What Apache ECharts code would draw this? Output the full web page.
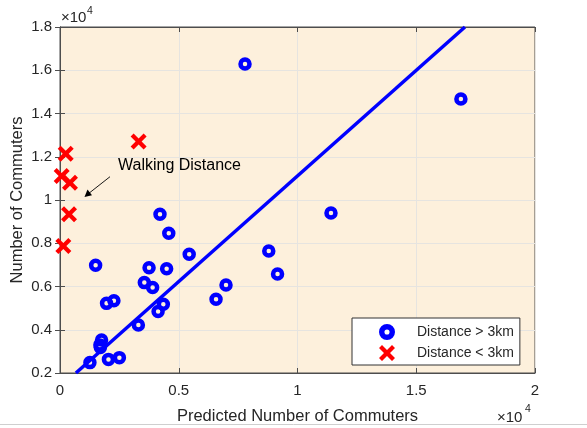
<!DOCTYPE html>
<html>
<head>
<meta charset="utf-8">
<script src="https://cdn.jsdelivr.net/npm/echarts@6/dist/echarts.min.js"></script>
<style>html,body{margin:0;padding:0;background:#fff}#c{width:587px;height:428px}</style>
</head>
<body>
<div id="c"></div>
<script>
// Distance > 3km: [predicted, actual]
var farPredicted = [7790, 16880, 11410, 4210, 4580, 5440, 1500, 3750, 4490, 3550, 3900, 8790, 9160, 6990, 6570, 1960, 2270, 4350, 4130, 3300, 1750, 1680, 1700, 2040, 2500, 1260];
var farActual    = [16290, 14670, 9400, 9340, 8460, 7490, 6980, 6870, 6820, 6180, 5950, 7640, 6580, 6070, 5410, 5220, 5340, 5180, 4840, 4220, 3530, 3300, 3180, 2630, 2710, 2480];
// Distance < 3km
var nearPredicted = [240, 70, 420, 3310, 380, 140];
var nearActual    = [12140, 11110, 10800, 12700, 9340, 7870];
// fitted line endpoints
var fitX = [670, 17050];
var fitY = [2000, 18000];
var xTicks = ['0', '0.5', '1', '1.5', '2'];

function pairs(a, b) { return a.map(function (v, i) { return [v, b[i]]; }); }

var crossPath = 'path://M3,0 L8,5 L13,0 L16,3 L11,8 L16,13 L13,16 L8,11 L3,16 L0,13 L5,8 L0,3 Z';
var ringPath = 'path://M8,0.5 A7.5,7.5 0 1,1 8,15.5 A7.5,7.5 0 1,1 8,0.5 Z M8,5.6 A2.4,2.4 0 1,0 8,10.4 A2.4,2.4 0 1,0 8,5.6 Z';
var txt = '#262626';
var font = '"Liberation Sans", Arial, Helvetica, sans-serif';

var chart = echarts.init(document.getElementById('c'), null, {renderer: 'canvas'});
chart.setOption({
  animation: false,
  backgroundColor: '#ffffff',
  textStyle: {fontFamily: font},
  grid: {left: 60, top: 27, right: 52, bottom: 55, show: true, backgroundColor: '#fdf0dc', borderColor: '#4d4d4d', borderWidth: 1, containLabel: false, outerBoundsMode: 'none'},
  xAxis: [{
    type: 'value', min: 0, max: 20000, interval: 5000, position: 'bottom',
    name: 'Predicted Number of Commuters', nameLocation: 'middle', nameGap: 35, nameMoveOverlap: false,
    nameTextStyle: {fontSize: 16.5, color: txt, fontFamily: font},
    axisLine: {show: true, lineStyle: {color: '#4d4d4d', width: 1}},
    axisTick: {show: true, inside: true, length: 5, lineStyle: {color: '#4d4d4d'}},
    axisLabel: {fontSize: 15, color: txt, margin: 10, fontFamily: font, formatter: function (v) { return xTicks[Math.round(v / 5000)]; }},
    splitLine: {show: true, lineStyle: {color: '#e6e4e0', width: 1}}
  }, {
    type: 'value', min: 0, max: 20000, interval: 5000, position: 'top',
    axisLine: {show: true, lineStyle: {color: '#4d4d4d', width: 1}},
    axisTick: {show: true, inside: true, length: 5, lineStyle: {color: '#4d4d4d'}},
    axisLabel: {show: false}, splitLine: {show: false}
  }],
  yAxis: [{
    type: 'value', min: 2000, max: 18000, interval: 2000, position: 'left',
    name: 'Number of Commuters', nameLocation: 'middle', nameGap: 34, nameRotate: 90, nameMoveOverlap: false,
    nameTextStyle: {fontSize: 16.5, color: txt, fontFamily: font},
    axisLine: {show: true, lineStyle: {color: '#4d4d4d', width: 1}},
    axisTick: {show: true, inside: true, length: 5, lineStyle: {color: '#4d4d4d'}},
    axisLabel: {fontSize: 15, color: txt, margin: 8, fontFamily: font, formatter: function (v) { return String(Math.round(v / 1000) / 10); }},
    splitLine: {show: true, lineStyle: {color: '#e6e4e0', width: 1}}
  }, {
    type: 'value', min: 2000, max: 18000, interval: 2000, position: 'right',
    axisLine: {show: true, lineStyle: {color: '#4d4d4d', width: 1}},
    axisTick: {show: true, inside: true, length: 5, lineStyle: {color: '#4d4d4d'}},
    axisLabel: {show: false}, splitLine: {show: false}
  }],
  legend: {
    orient: 'vertical', left: 352, top: 318,
    padding: [6, 6, 4, 27], itemGap: 5, itemWidth: 16, itemHeight: 16,
    backgroundColor: '#ffffff', borderColor: '#333333', borderWidth: 1,
    textStyle: {fontSize: 14, color: txt, lineHeight: 16, padding: [0, 0, 0, 17], fontFamily: font},
    data: [
      {name: 'Distance > 3km', icon: ringPath, itemStyle: {color: '#0000ff', borderWidth: 0}},
      {name: 'Distance < 3km', icon: crossPath, itemStyle: {color: '#ff0000', borderWidth: 0}}
    ]
  },
  series: [{
    name: 'Distance > 3km', type: 'scatter', data: pairs(farPredicted, farActual),
    symbol: 'circle', symbolSize: 9,
    itemStyle: {color: 'rgba(255,255,255,0)', borderColor: '#0000ff', borderWidth: 4.5, opacity: 1}
  }, {
    name: 'Distance < 3km', type: 'scatter', data: pairs(nearPredicted, nearActual),
    symbol: crossPath, symbolSize: 16,
    itemStyle: {color: '#ff0000', opacity: 1}
  }, {
    name: 'fit', type: 'line', data: pairs(fitX, fitY), symbol: 'none',
    lineStyle: {color: '#0000ff', width: 3.5}, clip: true, z: 3
  }],
  graphic: [
    {type: 'text', left: 61, top: 10, style: {text: '\u00d710', fill: txt, font: '15px ' + font}},
    {type: 'text', left: 87, top: 6, style: {text: '4', fill: txt, font: '10.5px ' + font}},
    {type: 'text', left: 497, top: 410, style: {text: '\u00d710', fill: txt, font: '15px ' + font}},
    {type: 'text', left: 525, top: 404, style: {text: '4', fill: txt, font: '10.5px ' + font}},
    {type: 'text', left: 118, top: 158, style: {text: 'Walking Distance', fill: '#000', font: '16px ' + font}},
    {type: 'line', shape: {x1: 110, y1: 176.7, x2: 88, y2: 194}, style: {stroke: '#000', lineWidth: 0.9}},
    {type: 'polygon', shape: {points: [[84.5, 197], [87.5, 189.5], [92, 195.3]]}, style: {fill: '#000'}},
    {type: 'line', shape: {x1: 0, y1: 424.5, x2: 587, y2: 424.5}, style: {stroke: '#cfcfcf', lineWidth: 1}}
  ]
});
</script>
</body>
</html>
